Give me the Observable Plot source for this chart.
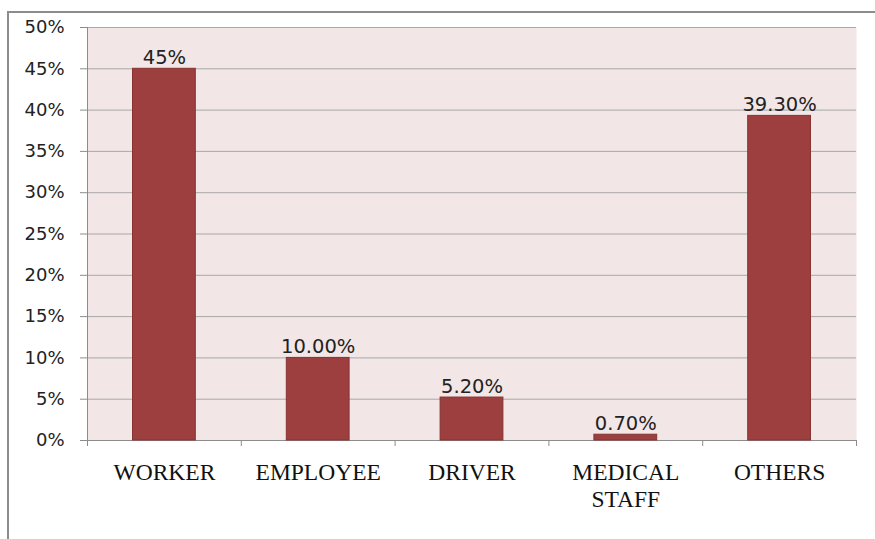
<!DOCTYPE html>
<html>
<head>
<meta charset="utf-8">
<script src="https://cdn.jsdelivr.net/npm/d3@7"></script>
<script src="https://cdn.jsdelivr.net/npm/@observablehq/plot@0.6"></script>
<style>
  html, body { margin: 0; padding: 0; background: #ffffff; }
  #wrap { position: relative; width: 875px; height: 539px; overflow: hidden; }
  #border { position: absolute; left: 7px; top: 11px; right: -10px; bottom: -10px;
            border-left: 2px solid #8c8c8c; border-top: 2px solid #8c8c8c; pointer-events: none; }
</style>
</head>
<body>
<div id="wrap"><div id="chart"></div><div id="border"></div></div>
<script>
const categories = ["WORKER", "EMPLOYEE", "DRIVER", "MEDICAL\nSTAFF", "OTHERS"];
const values = [0.45, 0.10, 0.052, 0.007, 0.393];
const valueLabels = ["45%", "10.00%", "5.20%", "0.70%", "39.30%"];
const yTicks = [0, 0.05, 0.10, 0.15, 0.20, 0.25, 0.30, 0.35, 0.40, 0.45, 0.50];

const data = categories.map((c, i) => ({i, category: c, value: values[i], label: valueLabels[i]}));
const bounds = d3.range(categories.length + 1);

const chart = Plot.plot({
  width: 875,
  height: 539,
  marginLeft: 87,
  marginRight: 19,
  marginTop: 27,
  marginBottom: 99,
  style: {background: "transparent", fontFamily: "DejaVu Sans"},
  x: {domain: [0, categories.length]},
  y: {domain: [0, 0.5]},
  marks: [
    Plot.frame({fill: "#f2e6e6", stroke: "none"}),
    Plot.gridY(yTicks, {stroke: "#a8a8a8", strokeOpacity: 1, strokeWidth: 1}),
    Plot.axisY({ticks: yTicks, tickFormat: d3.format(".0%"), tickSize: 7, tickPadding: 16,
                fontSize: 18, fill: "#222", stroke: "#8c8c8c", strokeOpacity: 1, label: null}),
    Plot.axisX({ticks: bounds, tickFormat: () => "", tickSize: 6, stroke: "#8c8c8c", strokeOpacity: 1, label: null}),
    Plot.ruleX([0], {stroke: "#8c8c8c"}),
    Plot.ruleY([0], {stroke: "#8c8c8c"}),
    Plot.rectY(data, {x1: d => d.i, x2: d => d.i + 1, y: "value", insetLeft: 45.5, insetRight: 45.5,
                      fill: "#9c3f3e", stroke: "#883332", strokeWidth: 1}),
    Plot.text(data, {x: d => d.i + 0.5, y: "value", text: "label", lineAnchor: "bottom", dy: -5,
                     fontSize: 19.5, fill: "#222"}),
    Plot.text(data, {x: d => d.i + 0.5, y: () => 0, text: "category", lineAnchor: "top", dy: 20,
                     fontSize: 23.5, lineHeight: 1.15, fill: "#111",
                     fontFamily: "Liberation Serif"})
  ]
});
document.getElementById("chart").append(chart);
</script>
</body>
</html>
